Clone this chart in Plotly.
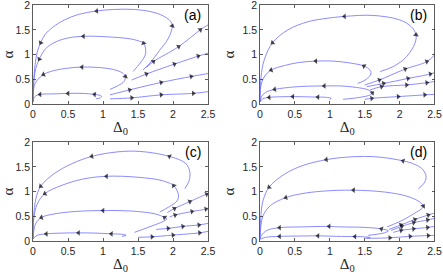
import plotly.graph_objects as go

# ---------------- data ----------------
# Each panel: list of trajectories (x list, y list) ordered along the flow,
# plus the indices of points that carry an arrow head.

# Panel (a)
a_x = [
    [1.57, 1.67, 1.81, 1.93, 1.99, 1.96, 1.86, 1.70, 1.45, 1.15, 0.91, 0.65, 0.45, 0.28, 0.17, 0.11, 0.06, 0.03, 0.01, 0.0],
    [1.43, 1.53, 1.60, 1.61, 1.58, 1.50, 1.38, 1.05, 0.72, 0.48, 0.30, 0.18, 0.09, 0.04, 0.01, 0.0],
    [1.10, 1.22, 1.30, 1.32, 1.28, 1.15, 0.95, 0.70, 0.45, 0.25, 0.15, 0.07, 0.02, 0.0],
    [0.90, 0.96, 0.98, 0.93, 0.88, 0.70, 0.50, 0.30, 0.10, 0.04, 0.01, 0.0],
    [1.62, 1.72, 2.08, 2.39, 2.50],
    [1.41, 1.62, 2.02, 2.36, 2.50],
    [1.10, 1.38, 1.83, 2.26, 2.50],
    [1.10, 1.41, 1.83, 2.29, 2.50],
]
a_y = [
    [0.69, 0.83, 1.09, 1.32, 1.58, 1.68, 1.78, 1.86, 1.91, 1.91, 1.88, 1.81, 1.70, 1.55, 1.40, 1.24, 1.05, 0.80, 0.45, 0.05],
    [0.66, 0.83, 0.98, 1.10, 1.23, 1.28, 1.32, 1.36, 1.37, 1.33, 1.24, 1.12, 0.91, 0.72, 0.45, 0.05],
    [0.30, 0.38, 0.46, 0.56, 0.63, 0.70, 0.74, 0.75, 0.72, 0.66, 0.60, 0.50, 0.38, 0.05],
    [0.11, 0.13, 0.16, 0.19, 0.20, 0.22, 0.22, 0.21, 0.20, 0.17, 0.12, 0.05],
    [0.74, 0.86, 1.16, 1.50, 1.60],
    [0.49, 0.61, 0.81, 0.97, 1.03],
    [0.19, 0.29, 0.44, 0.56, 0.62],
    [0.11, 0.13, 0.19, 0.22, 0.255],
]
a_arrows = [[4, 10, 15], [4, 8, 12], [3, 7, 10], [4, 6, 8], [1, 2, 3], [1, 2, 3], [1, 2, 3], [1, 2, 3]]

# Panel (b)
b_x = [
    [1.72, 1.91, 2.10, 2.22, 2.235, 2.17, 2.00, 1.62, 1.21, 0.90, 0.68, 0.40, 0.18, 0.06, 0.015, 0.0],
    [1.40, 1.52, 1.59, 1.57, 1.49, 1.30, 1.05, 0.80, 0.55, 0.35, 0.16, 0.06, 0.01, 0.0],
    [1.19, 1.43, 1.58, 1.61, 1.55, 1.38, 1.15, 0.92, 0.60, 0.35, 0.21, 0.08, 0.02, 0.0],
    [1.00, 1.02, 0.95, 0.83, 0.47, 0.25, 0.13, 0.04, 0.0],
    [1.50, 1.71, 2.08, 2.39, 2.50],
    [1.53, 1.77, 2.12, 2.44, 2.50],
    [1.58, 1.74, 2.10, 2.39, 2.50],
    [1.50, 1.60, 1.98, 2.36, 2.50],
]
b_y = [
    [0.66, 0.76, 0.96, 1.23, 1.40, 1.56, 1.70, 1.79, 1.77, 1.72, 1.66, 1.50, 1.24, 0.89, 0.55, 0.05],
    [0.42, 0.50, 0.62, 0.70, 0.77, 0.83, 0.87, 0.87, 0.84, 0.78, 0.69, 0.55, 0.35, 0.05],
    [0.10, 0.14, 0.19, 0.23, 0.29, 0.34, 0.37, 0.37, 0.36, 0.33, 0.30, 0.24, 0.15, 0.05],
    [0.10, 0.12, 0.14, 0.145, 0.155, 0.15, 0.14, 0.11, 0.05],
    [0.39, 0.49, 0.71, 0.86, 0.99],
    [0.355, 0.42, 0.52, 0.61, 0.64],
    [0.29, 0.355, 0.39, 0.435, 0.46],
    [0.10, 0.12, 0.155, 0.19, 0.20],
]
b_arrows = [[4, 8, 12], [4, 7, 10], [3, 7, 10], [3, 4, 6], [1, 2, 3], [1, 2, 3], [1, 2, 3], [1, 2, 3]]

# Panel (c)
c_x = [
    [2.17, 2.23, 2.24, 2.18, 1.95, 1.53, 1.20, 0.84, 0.55, 0.30, 0.11, 0.04, 0.01, 0.0],
    [1.81, 1.95, 2.05, 2.08, 2.07, 2.01, 1.85, 1.50, 1.05, 0.70, 0.40, 0.17, 0.06, 0.01, 0.0],
    [1.45, 1.70, 1.86, 1.91, 1.88, 1.75, 1.40, 1.00, 0.60, 0.30, 0.12, 0.04, 0.01, 0.0],
    [1.27, 1.33, 1.28, 1.12, 0.90, 0.65, 0.40, 0.19, 0.06, 0.0],
    [1.92, 2.02, 2.24, 2.48, 2.50],
    [1.95, 2.03, 2.27, 2.47, 2.50],
    [1.76, 1.93, 2.14, 2.37, 2.50],
    [1.50, 1.70, 2.00, 2.38, 2.50],
]
c_y = [
    [1.06, 1.22, 1.40, 1.57, 1.71, 1.81, 1.80, 1.71, 1.56, 1.36, 1.11, 0.85, 0.50, 0.05],
    [0.59, 0.70, 0.80, 0.90, 0.98, 1.12, 1.22, 1.29, 1.31, 1.25, 1.12, 0.96, 0.75, 0.45, 0.05],
    [0.18, 0.31, 0.40, 0.45, 0.48, 0.55, 0.61, 0.62, 0.60, 0.55, 0.48, 0.36, 0.20, 0.05],
    [0.10, 0.12, 0.14, 0.15, 0.165, 0.17, 0.165, 0.15, 0.12, 0.05],
    [0.58, 0.66, 0.80, 0.95, 0.96],
    [0.49, 0.53, 0.60, 0.65, 0.67],
    [0.24, 0.26, 0.30, 0.33, 0.36],
    [0.08, 0.09, 0.125, 0.17, 0.20],
]
c_arrows = [[4, 7, 10], [5, 8, 11], [4, 7, 10], [3, 5, 7], [1, 2, 3], [1, 2, 3], [1, 2, 3], [1, 2, 3]]

# Panel (d)
d_x = [
    [2.27, 2.35, 2.38, 2.33, 2.20, 2.05, 1.75, 1.50, 1.20, 0.95, 0.60, 0.35, 0.13, 0.04, 0.01, 0.0],
    [1.82, 2.05, 2.22, 2.31, 2.34, 2.28, 2.10, 1.80, 1.34, 0.90, 0.60, 0.37, 0.15, 0.04, 0.0],
    [1.55, 1.78, 1.84, 1.74, 1.50, 1.15, 0.99, 0.60, 0.28, 0.10, 0.02, 0.0],
    [1.50, 1.58, 1.50, 1.36, 1.10, 0.83, 0.50, 0.28, 0.08, 0.0],
    [1.85, 2.02, 2.22, 2.41, 2.50],
    [1.88, 2.03, 2.20, 2.40, 2.50],
    [1.91, 2.02, 2.20, 2.40, 2.50],
    [1.53, 1.86, 2.15, 2.41, 2.50],
]
d_y = [
    [1.06, 1.17, 1.30, 1.45, 1.56, 1.62, 1.69, 1.71, 1.69, 1.645, 1.52, 1.35, 1.09, 0.80, 0.45, 0.05],
    [0.29, 0.43, 0.57, 0.65, 0.71, 0.80, 0.91, 0.99, 1.03, 1.01, 0.96, 0.88, 0.72, 0.50, 0.05],
    [0.12, 0.17, 0.21, 0.25, 0.28, 0.29, 0.30, 0.29, 0.275, 0.22, 0.12, 0.05],
    [0.06, 0.075, 0.09, 0.095, 0.10, 0.11, 0.105, 0.10, 0.08, 0.04],
    [0.24, 0.33, 0.44, 0.53, 0.57],
    [0.22, 0.30, 0.375, 0.43, 0.46],
    [0.18, 0.22, 0.25, 0.28, 0.30],
    [0.06, 0.07, 0.10, 0.115, 0.12],
]
d_arrows = [[5, 9, 12], [4, 8, 11], [3, 6, 8], [3, 5, 7], [1, 2, 3], [1, 2, 3], [1, 2, 3], [1, 2, 3]]

panel_labels = ["(a)", "(b)", "(c)", "(d)"]
x_ticks = [0, 0.5, 1, 1.5, 2, 2.5]
x_tick_text = ["0", "0.5", "1", "1.5", "2", "2.5"]
y_ticks = [0, 0.5, 1, 1.5, 2]
y_tick_text = ["0", "0.5", "1", "1.5", "2"]

# ---------------- figure ----------------
W, H = 443, 277
fig = go.Figure()

panels = [(a_x, a_y, a_arrows), (b_x, b_y, b_arrows), (c_x, c_y, c_arrows), (d_x, d_y, d_arrows)]
x_domains = [[33 / W, 208 / W], [260 / W, 434.5 / W], [33 / W, 208 / W], [260 / W, 434.5 / W]]
y_domains = [[1 - 104.3 / H, 1 - 5 / H], [1 - 104.3 / H, 1 - 5 / H],
             [1 - 241.3 / H, 1 - 142 / H], [1 - 241.3 / H, 1 - 142 / H]]

LINE_COLOR = "#6f6fff"
AX_COLOR = "#333333"
TICK_FONT = dict(family="Liberation Sans, Arial, sans-serif", size=10.5, color="#262626")

for p, (px, py, parrows) in enumerate(panels):
    xa = "x" if p == 0 else f"x{p+1}"
    ya = "y" if p == 0 else f"y{p+1}"
    for cx, cy, arr in zip(px, py, parrows):
        sizes = [5 if i in arr else 0 for i in range(len(cx))]
        fig.add_trace(go.Scatter(
            x=cx, y=cy, xaxis=xa, yaxis=ya,
            mode="lines+markers",
            line=dict(color=LINE_COLOR, width=0.8, shape="spline", smoothing=1.0),
            marker=dict(symbol="triangle-up", size=sizes, color="black",
                        angleref="previous", line=dict(width=0)),
            showlegend=False, hoverinfo="skip",
        ))

    common_x = dict(
        domain=x_domains[p], range=[0, 2.5], tickvals=x_ticks, ticktext=x_tick_text,
        ticks="inside", ticklen=3, tickwidth=0.8, tickcolor=AX_COLOR,
        showline=True, linecolor=AX_COLOR, linewidth=0.8, mirror="ticks",
        showgrid=False, zeroline=False, tickfont=TICK_FONT, automargin=False,
        ticklabeloverflow="allow", anchor=ya,
        title=dict(text="Δ<sub>0</sub>", font=dict(family="Liberation Serif, serif", size=15, color="#262626"),
                   standoff=2),
    )
    common_y = dict(
        domain=y_domains[p], range=[0, 2], tickvals=y_ticks, ticktext=y_tick_text,
        ticks="inside", ticklen=3, tickwidth=0.8, tickcolor=AX_COLOR,
        showline=True, linecolor=AX_COLOR, linewidth=0.8, mirror="ticks",
        showgrid=False, zeroline=False, tickfont=TICK_FONT, automargin=False,
        ticklabeloverflow="allow", anchor=xa,
        title=dict(text="α", font=dict(family="Liberation Serif, serif", size=15, color="#262626"),
                   standoff=4),
    )
    fig.layout["xaxis" if p == 0 else f"xaxis{p+1}"] = common_x
    fig.layout["yaxis" if p == 0 else f"yaxis{p+1}"] = common_y

    fig.add_annotation(
        x=x_domains[p][1] - 5 / W, y=y_domains[p][1] - 10 / H, xref="paper", yref="paper",
        text=panel_labels[p], showarrow=False, xanchor="right", yanchor="middle",
        font=dict(family="Liberation Sans, Arial, sans-serif", size=14, color="black"),
    )

fig.update_layout(
    width=W, height=H, margin=dict(l=0, r=0, t=0, b=0),
    paper_bgcolor="white", plot_bgcolor="white",
)

fig.write_html(
    "out.html",
    config={"displayModeBar": False, "staticPlot": True},
    post_script="document.body.style.margin='0';document.body.style.overflow='hidden';",
)
